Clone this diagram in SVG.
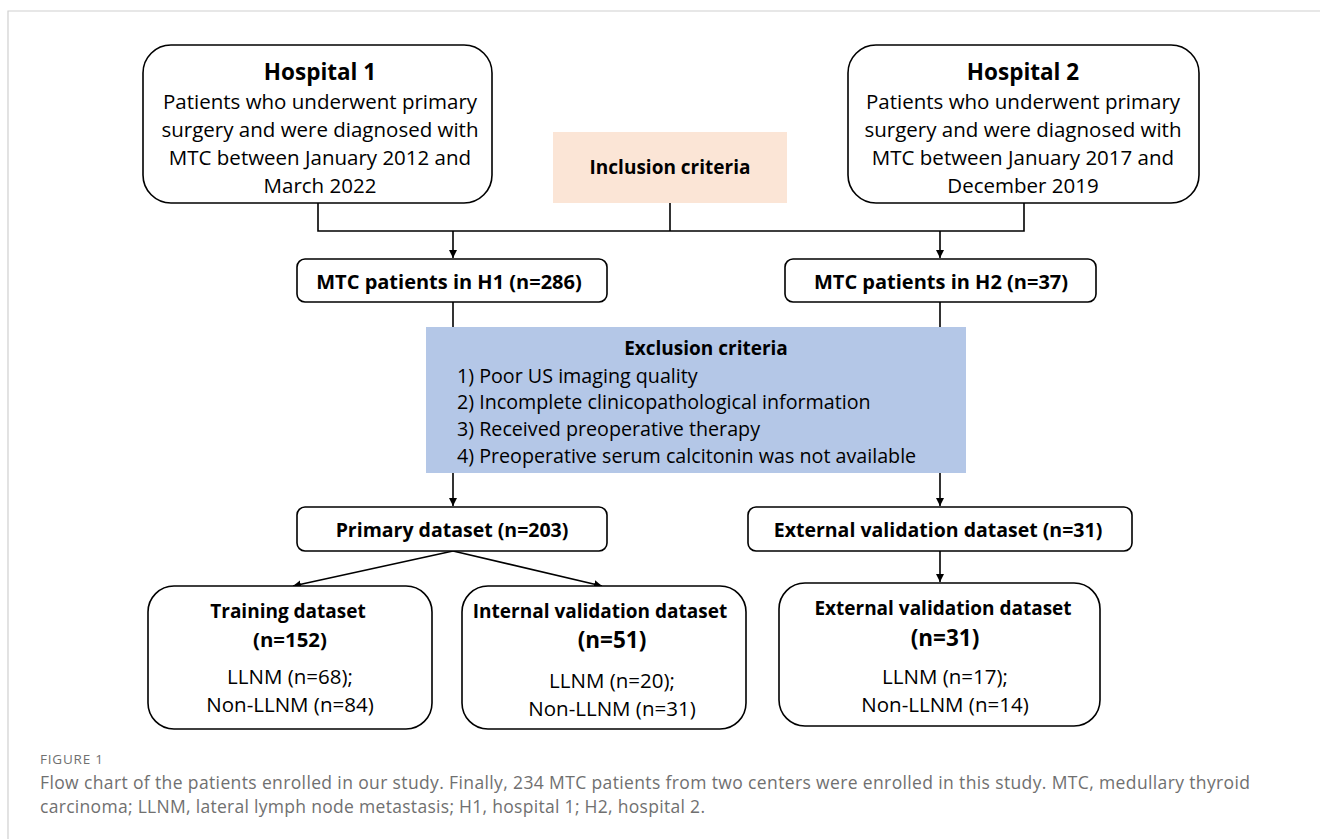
<svg xmlns="http://www.w3.org/2000/svg" width="1320" height="839" viewBox="0 0 1320 839">
<defs>
<marker id="ah" viewBox="0 0 10 10" refX="10" refY="5" markerWidth="8" markerHeight="8" markerUnits="userSpaceOnUse" orient="auto">
<path d="M0,0 L10,5 L0,10 z" fill="#000"/>
</marker>
<style>
.box{fill:#fff;stroke:#000;stroke-width:1.6}
.t{font-family:"Open Sans","Liberation Sans",sans-serif;fill:#000;text-anchor:middle}
.r{font-size:20.5px}
.e{font-size:19.7px;text-anchor:start}
.h{font-size:22.5px;font-weight:bold}
.n{font-size:19.5px;font-weight:bold}
.m{font-size:22.5px;font-weight:bold}
.c{stroke:#000;stroke-width:1.6;fill:none}
.cap{font-family:"Open Sans","Liberation Sans",sans-serif;fill:#707070}
</style>
</defs>
<rect width="1320" height="839" fill="#fff"/>
<path d="M8,839 V11 H1320" fill="none" stroke="#d0d0d0" stroke-width="1.2"/>

<g id="connectors">
<path class="c" d="M318,203 V231 H1024 V203"/>
<path class="c" d="M670,203 V231"/>
<path class="c" d="M453,231 V258" marker-end="url(#ah)"/>
<path class="c" d="M940,231 V258" marker-end="url(#ah)"/>
<path class="c" d="M453,302 V327"/>
<path class="c" d="M940,302 V327"/>
<path class="c" d="M453,473 V506" marker-end="url(#ah)"/>
<path class="c" d="M940,473 V506" marker-end="url(#ah)"/>
<path class="c" d="M453,551 L293,586" marker-end="url(#ah)"/>
<path class="c" d="M453,551 L602,586" marker-end="url(#ah)"/>
<path class="c" d="M940,551 V582" marker-end="url(#ah)"/>
</g>

<g id="hospital1">
<rect class="box" x="143" y="45" width="349" height="158" rx="28"/>
<text class="t h" x="320" y="80">Hospital 1</text>
<text class="t r" x="320" y="109">Patients who underwent primary</text>
<text class="t r" x="320" y="137">surgery and were diagnosed with</text>
<text class="t r" x="320" y="165">MTC between January 2012 and</text>
<text class="t r" x="320" y="193">March 2022</text>
</g>

<g id="inclusion">
<rect x="553" y="132" width="234" height="71" fill="#fbe5d6"/>
<text class="t" x="670" y="174" style="font-size:19px;font-weight:bold">Inclusion criteria</text>
</g>

<g id="hospital2">
<rect class="box" x="848" y="45" width="351" height="158" rx="28"/>
<text class="t h" x="1023" y="80">Hospital 2</text>
<text class="t r" x="1023" y="109">Patients who underwent primary</text>
<text class="t r" x="1023" y="137">surgery and were diagnosed with</text>
<text class="t r" x="1023" y="165">MTC between January 2017 and</text>
<text class="t r" x="1023" y="193">December 2019</text>
</g>

<g id="h1patients">
<rect class="box" x="297" y="259" width="310" height="43" rx="8"/>
<text class="t" x="449" y="289" style="font-size:20px;font-weight:bold">MTC patients in H1 (n=286)</text>
</g>

<g id="h2patients">
<rect class="box" x="785" y="259" width="311" height="43" rx="8"/>
<text class="t" x="941" y="289" style="font-size:20px;font-weight:bold">MTC patients in H2 (n=37)</text>
</g>

<g id="exclusion">
<rect x="426" y="327" width="540" height="146" fill="#b4c7e7"/>
<text class="t" x="706" y="355" style="font-size:19px;font-weight:bold">Exclusion criteria</text>
<text class="t e" x="457" y="383">1) Poor US imaging quality</text>
<text class="t e" x="457" y="409">2) Incomplete clinicopathological information</text>
<text class="t e" x="457" y="436">3) Received preoperative therapy</text>
<text class="t e" x="457" y="463">4) Preoperative serum calcitonin was not available</text>
</g>

<g id="primary">
<rect class="box" x="297" y="507" width="310" height="44" rx="8"/>
<text class="t n" x="452" y="537">Primary dataset (n=203)</text>
</g>

<g id="external1">
<rect class="box" x="748" y="507" width="384" height="44" rx="8"/>
<text class="t n" x="938" y="537">External validation dataset (n=31)</text>
</g>

<g id="training">
<rect class="box" x="148" y="586" width="284" height="143" rx="26"/>
<text class="t" x="288" y="618" style="font-size:19px;font-weight:bold">Training dataset</text>
<text class="t" x="290" y="647" style="font-size:20.4px;font-weight:bold">(n=152)</text>
<text class="t r" x="290" y="684">LLNM (n=68);</text>
<text class="t r" x="290" y="712">Non-LLNM (n=84)</text>
</g>

<g id="internal">
<rect class="box" x="462" y="586" width="284" height="143" rx="26"/>
<text class="t" x="600" y="618" style="font-size:19px;font-weight:bold">Internal validation dataset</text>
<text class="t m" x="612" y="648">(n=51)</text>
<text class="t r" x="612" y="688">LLNM (n=20);</text>
<text class="t r" x="612" y="716">Non-LLNM (n=31)</text>
</g>

<g id="external2">
<rect class="box" x="779" y="583" width="321" height="143" rx="26"/>
<text class="t" x="943" y="615" style="font-size:19px;font-weight:bold">External validation dataset</text>
<text class="t m" x="945" y="646">(n=31)</text>
<text class="t r" x="945" y="684">LLNM (n=17);</text>
<text class="t r" x="945" y="712">Non-LLNM (n=14)</text>
</g>

<text class="cap" x="40" y="764" style="font-size:13.5px" textLength="63">FIGURE 1</text>
<text class="cap" x="40" y="789" style="font-size:17.5px" textLength="1210">Flow chart of the patients enrolled in our study. Finally, 234 MTC patients from two centers were enrolled in this study. MTC, medullary thyroid</text>
<text class="cap" x="40" y="813" style="font-size:17.5px" textLength="665">carcinoma; LLNM, lateral lymph node metastasis; H1, hospital 1; H2, hospital 2.</text>
</svg>
